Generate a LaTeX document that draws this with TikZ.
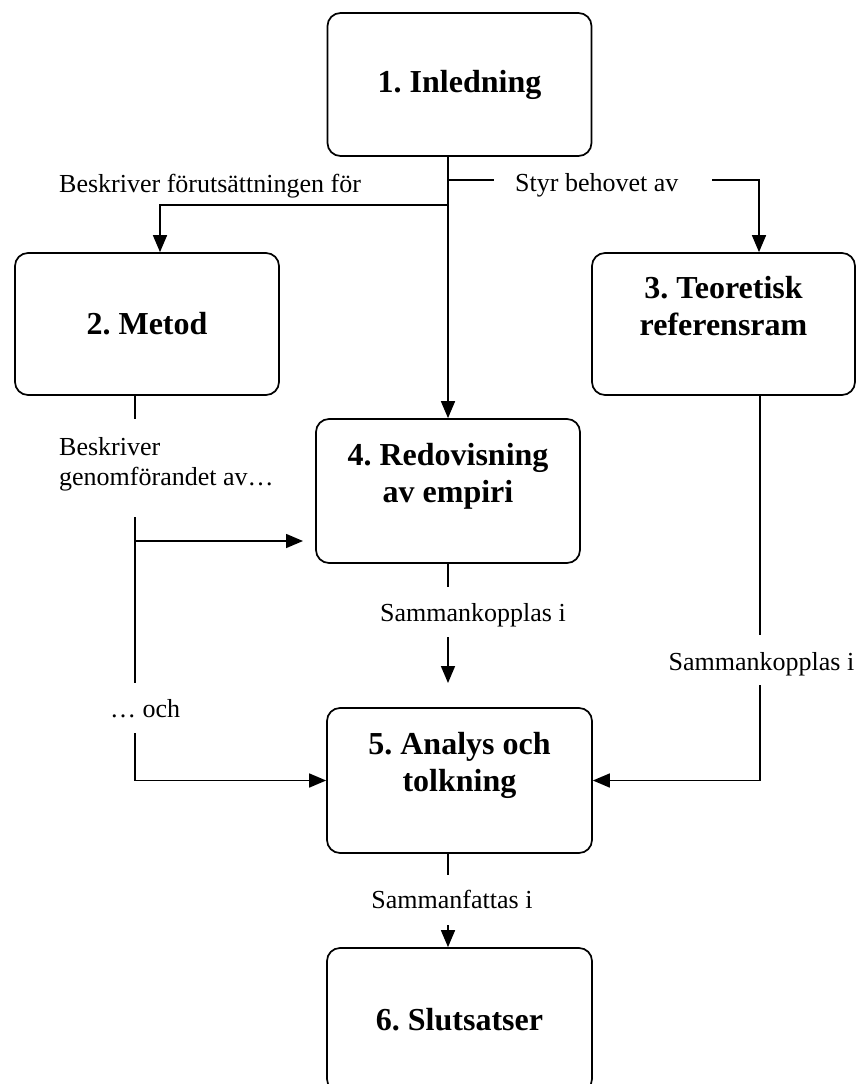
\documentclass[tikz,border=0pt]{standalone}
\usepackage{fontspec}
\setmainfont{Liberation Serif}
\usetikzlibrary{arrows.meta}
\frenchspacing
\tikzset{
  box/.style={draw, line width=1.7pt, rounded corners=13pt, inner sep=0pt,
    minimum width=264pt, minimum height=143pt, align=center,
    font=\fontsize{32}{37}\selectfont\bfseries},
  lbl/.style={font=\fontsize{26}{30}\selectfont, inner sep=0pt},
  conn/.style={line width=1.6pt},
  arr/.style={conn, -{Triangle[length=17pt,width=14pt]}},
}
\begin{document}
\begin{tikzpicture}[x=1pt, y=-1pt]
\useasboundingbox (0,0) rectangle (858,1084);
\clip (0,0) rectangle (858,1084);

% boxes
\node[box] (b1) at (459.5,84.5) {1. Inledning};
\node[box, minimum height=142pt] (b2) at (147,324) {2. Metod};
\node[box, minimum height=142pt, minimum width=263pt] (b3) at (723.5,324) {3. Teoretisk\\referensram\\\mbox{}};
\node[box, minimum height=144pt] (b4) at (448,491) {4. Redovisning\\av empiri\\\mbox{}};
\node[box, minimum height=145pt, minimum width=265pt] (b5) at (459.5,780.5) {5. Analys och\\tolkning\\\mbox{}};
\node[box, minimum height=144pt, minimum width=265pt] (b6) at (459.5,1020) {6. Slutsatser};

% labels
\node[lbl, anchor=base west] (l1) at (59,192) {Beskriver förutsättningen för};
\node[lbl, anchor=base west] (l2) at (515,191) {Styr behovet av};
\node[lbl, anchor=north west, align=left] (l3) at (59,437) {Beskriver\\genomförandet av…};
\node[lbl, anchor=base west] (l4) at (110,717) {… och};
\node[lbl, anchor=base] (l5) at (473,621) {Sammankopplas i};
\node[lbl, anchor=base] (l6) at (761.5,670) {Sammankopplas i};
\node[lbl, anchor=base] (l7) at (452,908) {Sammanfattas i};

% 1 -> 4
\draw[arr] (b1.south -| b4.north) -- (b4.north);
% 1 -> 2
\coordinate (j1) at (448,205);
\draw[arr] (j1) -| ([xshift=13pt]b2.north);
% 1 -> 3
\coordinate (j2) at (448,180);
\coordinate (g1) at (494,180);
\coordinate (g2) at (712,180);
\draw[conn] (j2) -- (g1);
\draw[arr] (g2) -| ([xshift=35.5pt]b3.north);

% 2 -> 4 and 5
\coordinate (m0) at (135,419);
\draw[conn] ([xshift=-12pt]b2.south) -- (m0);
\coordinate (m1) at (135,517);
\coordinate (m2) at (135,683);
\draw[conn] (m1) -- (m2);
\coordinate (m3) at (135,541);
\coordinate (t4) at (303,541);
\draw[arr] (m3) -- (t4);
\coordinate (m4) at (135,733);
\draw[arr] (m4) |- (b5.west);

% 4 -> 5
\coordinate (n0) at (448,587);
\draw[conn] (b4.south) -- (n0);
\coordinate (n1) at (448,637);
\coordinate (n2) at (448,683);
\draw[arr] (n1) -- (n2);

% 3 -> 5
\coordinate (r0) at (760,635);
\draw[conn] ([xshift=36.5pt]b3.south) -- (r0);
\coordinate (r1) at (760,685);
\draw[arr] (r1) |- (b5.east);

% 5 -> 6
\coordinate (p0) at (448,875);
\draw[conn] (b5.south -| b4.south) -- (p0);
\coordinate (p1) at (448,925);
\draw[arr] (p1) -- (b6.north -| p1);
\end{tikzpicture}
\end{document}
